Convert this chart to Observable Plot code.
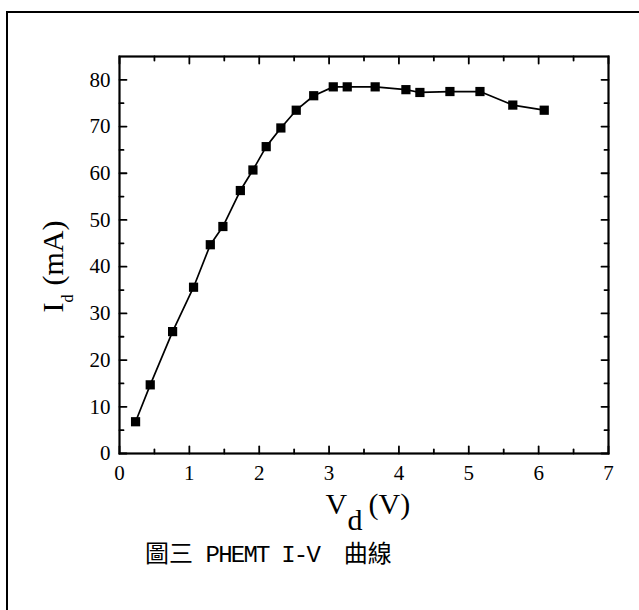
<!DOCTYPE html>
<html>
<head>
<meta charset="utf-8">
<script src="https://cdn.jsdelivr.net/npm/d3@7"></script>
<script src="https://cdn.jsdelivr.net/npm/@observablehq/plot@0.6"></script>
<style>
  html, body { margin: 0; padding: 0; background: #fff; }
  #wrap { position: relative; width: 639px; height: 610px; overflow: hidden; background: #fff; }
  #border { position: absolute; left: 6px; top: 11px; width: 700px; height: 700px;
            border-left: 2px solid #000; border-top: 2px solid #000; }
  #chart { position: absolute; left: 0; top: 0; }
  #caption { position: absolute; left: 145px; top: 540px; font-size: 24px; line-height: 24px;
             font-family: "Noto Sans CJK TC", sans-serif; color: #000; white-space: pre; }
  #caption .lat { font-family: "Liberation Mono", monospace; font-size: 24px; letter-spacing: -1.8px; }
  #caption .tail { margin-left: 12px; }
</style>
</head>
<body>
<div id="wrap">
  <div id="border"></div>
  <div id="chart"></div>
  <div id="caption">圖三<span class="lat"> PHEMT I-V </span><span class="tail">曲線</span></div>
</div>
<script>
// Drain voltage (V) and drain current (mA)
const vd = [0.23, 0.44, 0.76, 1.06, 1.30, 1.48, 1.73, 1.91, 2.10, 2.31, 2.53, 2.78, 3.06, 3.26, 3.66, 4.10, 4.30, 4.73, 5.16, 5.63, 6.08];
const id = [6.8, 14.7, 26.1, 35.6, 44.7, 48.6, 56.3, 60.7, 65.7, 69.7, 73.5, 76.6, 78.5, 78.5, 78.5, 77.9, 77.3, 77.5, 77.5, 74.6, 73.5];

const xMajor = [0, 1, 2, 3, 4, 5, 6, 7];
const xMinor = [0.5, 1.5, 2.5, 3.5, 4.5, 5.5, 6.5];
const yMajor = [0, 10, 20, 30, 40, 50, 60, 70, 80];
const yMinor = [5, 15, 25, 35, 45, 55, 65, 75];

const data = vd.map((v, i) => ({v, i: id[i]}));

const serif = "Liberation Serif, Times New Roman, serif";
const tickShape = { draw(context, l) { context.moveTo(0, 0); context.lineTo(0, -l); } };
const tick = (vals, ch, frameAnchor, rotate, length) =>
  Plot.vector(vals, {[ch]: d => d, frameAnchor, rotate, length, anchor: "start",
                     shape: tickShape, stroke: "black", strokeWidth: 1.8});

const chart = Plot.plot({
  width: 639,
  height: 610,
  marginLeft: 119,
  marginRight: 31,
  marginTop: 56,
  marginBottom: 157,
  x: {domain: [0, 7]},
  y: {domain: [0, 85]},
  style: {background: "transparent", color: "black"},
  marks: [
    Plot.frame({stroke: "black", strokeWidth: 2.2}),
    tick(xMajor, "x", "bottom", 0, 7),
    tick(xMinor, "x", "bottom", 0, 4),
    tick(xMajor, "x", "top", 180, 7),
    tick(xMinor, "x", "top", 180, 4),
    tick(yMajor, "y", "left", 90, 7),
    tick(yMinor, "y", "left", 90, 4),
    tick(yMajor, "y", "right", -90, 7),
    tick(yMinor, "y", "right", -90, 4),
    Plot.axisX({ticks: xMajor, tickSize: 0, tickPadding: 12, tickFormat: d => d,
                fontSize: 21, fontFamily: serif, label: null}),
    Plot.axisY({ticks: yMajor, tickSize: 0, tickPadding: 9, tickFormat: d => d,
                fontSize: 21, fontFamily: serif, label: null}),
    Plot.line(data, {x: "v", y: "i", stroke: "black", strokeWidth: 1.7}),
    Plot.dot(data, {x: "v", y: "i", symbol: "square", r: 5.2, fill: "black", stroke: null}),
    // x-axis label: V_d (V)
    Plot.text(["V"], {frameAnchor: "bottom", dx: -38.5, dy: 60, textAnchor: "start", lineAnchor: "bottom",
                      fontSize: 30, fontFamily: serif, fill: "black"}),
    Plot.text(["d"], {frameAnchor: "bottom", dx: -16.5, dy: 76, textAnchor: "start", lineAnchor: "bottom",
                      fontSize: 30, fontFamily: serif, fill: "black"}),
    Plot.text(["(V)"], {frameAnchor: "bottom", dx: 4.5, dy: 60, textAnchor: "start", lineAnchor: "bottom",
                      fontSize: 30, fontFamily: serif, fill: "black"}),
    // y-axis label: I_d (mA)
    Plot.text(["I"], {frameAnchor: "left", dx: -57, dy: 57.5, rotate: -90, textAnchor: "start", lineAnchor: "bottom",
                      fontSize: 30, fontFamily: serif, fill: "black"}),
    Plot.text(["d"], {frameAnchor: "left", dx: -47, dy: 47.5, rotate: -90, textAnchor: "start", lineAnchor: "bottom",
                      fontSize: 16, fontFamily: serif, fill: "black"}),
    Plot.text(["(mA)"], {frameAnchor: "left", dx: -57, dy: 30.5, rotate: -90, textAnchor: "start", lineAnchor: "bottom",
                      fontSize: 30, fontFamily: serif, fill: "black"})
  ]
});
document.getElementById("chart").appendChild(chart);
</script>
</body>
</html>
